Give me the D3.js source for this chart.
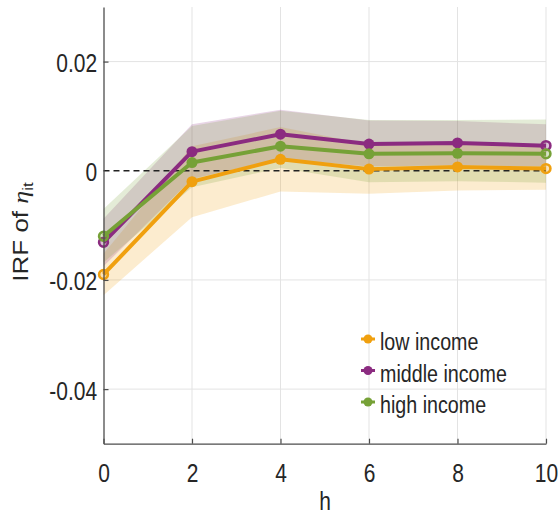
<!DOCTYPE html>
<html>
<head>
<meta charset="utf-8">
<script src="https://cdn.jsdelivr.net/npm/d3@7"></script>
<style>
  body { margin: 0; background: #fff; }
  text { font-family: "Liberation Sans", Arial, sans-serif; fill: #262626; }
</style>
</head>
<body>
<div id="chart-area"></div>
<script>
// horizons and impulse responses
var horizons = [0, 2, 4, 6, 8, 10];

var lowIncome   = [-0.0190, -0.0020, 0.0021, 0.0003, 0.0007, 0.0004];
var lowLower    = [-0.0228, -0.0085, -0.0038, -0.0042, -0.0036, -0.0035];
var lowUpper    = [-0.0152, 0.0045, 0.0080, 0.0048, 0.0050, 0.0043];

var middleIncome = [-0.0131, 0.0035, 0.0067, 0.0049, 0.0051, 0.0046];
var middleLower  = [-0.0175, -0.0015, 0.0022, 0.0008, 0.0010, 0.0008];
var middleUpper  = [-0.0088, 0.0085, 0.0112, 0.0092, 0.0091, 0.0085];

var highIncome  = [-0.0120, 0.0015, 0.0045, 0.0031, 0.0032, 0.0031];
var highLower   = [-0.0168, -0.0030, 0.0005, -0.0021, -0.0019, -0.0022];
var highUpper   = [-0.0070, 0.0082, 0.0110, 0.0093, 0.0093, 0.0094];

var seriesNames = ["low income", "middle income", "high income"];
var xTicks = [0, 2, 4, 6, 8, 10];
var yTicks = [-0.04, -0.02, 0, 0.02];

var colors = ["#f0a00f", "#8b2b80", "#76a137"];

var series = [
  {name: seriesNames[0], mid: lowIncome, lo: lowLower, hi: lowUpper, color: colors[0]},
  {name: seriesNames[1], mid: middleIncome, lo: middleLower, hi: middleUpper, color: colors[1]},
  {name: seriesNames[2], mid: highIncome, lo: highLower, hi: highUpper, color: colors[2]}
];

var W = 559, H = 517;
var sx = 0.84; // narrow look of the text

var svg = d3.select("#chart-area").append("svg")
    .attr("width", W)
    .attr("height", H);

var x = d3.scaleLinear().domain([0, 10]).range([103.5, 546]);
var y = d3.scaleLinear().domain([-0.05, 0.03]).range([443.7, 7]);

// grid
svg.append("g").selectAll("line")
    .data(xTicks.filter(d => d > 0))
    .enter().append("line")
    .attr("x1", d => x(d)).attr("x2", d => x(d))
    .attr("y1", y(0.03)).attr("y2", y(-0.05))
    .attr("stroke", "#e3e3e3").attr("stroke-width", 1);

svg.append("g").selectAll("line")
    .data(yTicks.filter(d => d !== 0))
    .enter().append("line")
    .attr("x1", x(0)).attr("x2", x(10))
    .attr("y1", d => y(d)).attr("y2", d => y(d))
    .attr("stroke", "#e3e3e3").attr("stroke-width", 1);

// bands
var area = d3.area()
    .x((d, i) => x(horizons[i]))
    .y0(d => y(d[0]))
    .y1(d => y(d[1]));

series.forEach(function(s) {
  var pts = s.lo.map((v, i) => [v, s.hi[i]]);
  svg.append("path")
      .datum(pts)
      .attr("d", area)
      .attr("fill", s.color)
      .attr("fill-opacity", 0.2);
});

// zero line
svg.append("line")
    .attr("x1", x(0)).attr("x2", x(10))
    .attr("y1", y(0)).attr("y2", y(0))
    .attr("stroke", "#222").attr("stroke-width", 1.5)
    .attr("stroke-dasharray", "6,4");

// lines and markers
var line = d3.line()
    .x((d, i) => x(horizons[i]))
    .y(d => y(d));

var isEnd = i => i === 0 || i === horizons.length - 1;

series.forEach(function(s) {
  svg.append("path")
      .datum(s.mid)
      .attr("d", line)
      .attr("fill", "none")
      .attr("stroke", s.color)
      .attr("stroke-width", 4)
      .attr("stroke-linejoin", "round");

  svg.append("g").selectAll("circle")
      .data(s.mid)
      .enter().append("circle")
      .attr("cx", (d, i) => x(horizons[i]))
      .attr("cy", d => y(d))
      .attr("r", (d, i) => isEnd(i) ? 4.4 : 5.5)
      .attr("fill", s.color)
      .attr("fill-opacity", (d, i) => isEnd(i) ? 0.3 : 1)
      .attr("stroke", s.color)
      .attr("stroke-width", (d, i) => isEnd(i) ? 2.6 : 0);
});

// axes
var fmt = d => d === 0 ? "0" : d3.format(".2f")(d).replace("\u2212", "-");

var yAxis = d3.axisLeft(y)
    .tickValues(yTicks)
    .tickFormat(fmt)
    .tickSizeInner(-5)
    .tickSizeOuter(0)
    .tickPadding(7.5);

var gy = svg.append("g")
    .attr("transform", "translate(" + x(0) + ",0)")
    .call(yAxis);

var xAxis = d3.axisBottom(x)
    .tickValues(xTicks)
    .tickSizeInner(-5)
    .tickSizeOuter(0)
    .tickPadding(20.5);

var gx = svg.append("g")
    .attr("transform", "translate(0," + y(-0.05) + ")")
    .call(xAxis);

[gx, gy].forEach(function(g) {
  g.select(".domain").attr("stroke", "#4d4d4d").attr("stroke-width", 1.3);
  g.selectAll(".tick line").attr("stroke", "#4d4d4d").attr("stroke-width", 1.2);
  g.selectAll(".tick text")
      .attr("font-size", "25px")
      .attr("fill", "#262626")
      .attr("font-family", "Liberation Sans, Arial, sans-serif")
      .attr("transform", "scale(" + sx + ",1)");
});
gy.selectAll(".tick text").attr("dy", "0.4em");
gy.selectAll(".tick line").filter(d => d === 0).remove();

// axis labels
svg.append("text")
    .attr("transform", "translate(325,510) scale(" + sx + ",1)")
    .attr("text-anchor", "middle")
    .attr("font-size", "25px")
    .text("h");

var yl = svg.append("text")
    .attr("transform", "translate(28,232) scale(" + sx + ",1) rotate(-90)")
    .attr("text-anchor", "middle")
    .attr("font-size", "26px");
yl.append("tspan").text("IRF of ");
yl.append("tspan")
    .attr("font-family", "Liberation Serif, serif")
    .attr("font-style", "italic")
    .text("\u03b7");
yl.append("tspan")
    .attr("font-size", "17px")
    .attr("dy", "6")
    .text("it");

// legend
var legend = svg.append("g")
    .attr("transform", "translate(368,339)");

var items = legend.selectAll("g")
    .data(series)
    .enter().append("g")
    .attr("transform", (d, i) => "translate(0," + (i * 31.5) + ")");

items.append("line")
    .attr("x1", -7).attr("x2", 7)
    .attr("stroke", d => d.color)
    .attr("stroke-width", 3);
items.append("circle")
    .attr("r", 4.5)
    .attr("fill", d => d.color);
items.append("text")
    .attr("transform", "translate(12,11) scale(0.82,1)")
    .attr("font-size", "24px")
    .attr("fill", "#111")
    .text(d => d.name);
</script>
</body>
</html>
